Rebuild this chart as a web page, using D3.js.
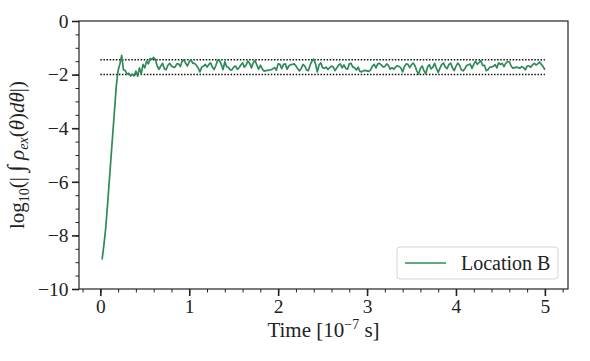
<!DOCTYPE html>
<html>
<head>
<meta charset="utf-8">
<script src="https://cdn.jsdelivr.net/npm/d3@7"></script>
<style>
  body { margin: 0; background: #fff; }
  svg text { font-family: "Liberation Serif", "DejaVu Serif", serif; fill: #222; }
</style>
</head>
<body>
<svg id="chart" width="590" height="361"></svg>
<script>
const times = [
  0.02, 0.04, 0.06, 0.08, 0.10, 0.12, 0.14, 0.16, 0.18, 0.20,
  0.22, 0.24, 0.26, 0.28, 0.30, 0.32, 0.34, 0.36, 0.38, 0.40,
  0.42, 0.44, 0.46, 0.48, 0.50, 0.52, 0.54, 0.56, 0.58, 0.60,
  0.62, 0.64, 0.66, 0.68, 0.70, 0.72, 0.74, 0.76, 0.78, 0.80,
  0.82, 0.84, 0.86, 0.88, 0.90, 0.92, 0.94, 0.96, 0.98, 1.00,
  1.02, 1.04, 1.06, 1.08, 1.10, 1.12, 1.14, 1.16, 1.18, 1.20,
  1.22, 1.24, 1.26, 1.28, 1.30, 1.32, 1.34, 1.36, 1.38, 1.40,
  1.42, 1.44, 1.46, 1.48, 1.50, 1.52, 1.54, 1.56, 1.58, 1.60,
  1.62, 1.64, 1.66, 1.68, 1.70, 1.72, 1.74, 1.76, 1.78, 1.80,
  1.82, 1.84, 1.86, 1.88, 1.90, 1.92, 1.94, 1.96, 1.98, 2.00,
  2.02, 2.04, 2.06, 2.08, 2.10, 2.12, 2.14, 2.16, 2.18, 2.20,
  2.22, 2.24, 2.26, 2.28, 2.30, 2.32, 2.34, 2.36, 2.38, 2.40,
  2.42, 2.44, 2.46, 2.48, 2.50, 2.52, 2.54, 2.56, 2.58, 2.60,
  2.62, 2.64, 2.66, 2.68, 2.70, 2.72, 2.74, 2.76, 2.78, 2.80,
  2.82, 2.84, 2.86, 2.88, 2.90, 2.92, 2.94, 2.96, 2.98, 3.00,
  3.02, 3.04, 3.06, 3.08, 3.10, 3.12, 3.14, 3.16, 3.18, 3.20,
  3.22, 3.24, 3.26, 3.28, 3.30, 3.32, 3.34, 3.36, 3.38, 3.40,
  3.42, 3.44, 3.46, 3.48, 3.50, 3.52, 3.54, 3.56, 3.58, 3.60,
  3.62, 3.64, 3.66, 3.68, 3.70, 3.72, 3.74, 3.76, 3.78, 3.80,
  3.82, 3.84, 3.86, 3.88, 3.90, 3.92, 3.94, 3.96, 3.98, 4.00,
  4.02, 4.04, 4.06, 4.08, 4.10, 4.12, 4.14, 4.16, 4.18, 4.20,
  4.22, 4.24, 4.26, 4.28, 4.30, 4.32, 4.34, 4.36, 4.38, 4.40,
  4.42, 4.44, 4.46, 4.48, 4.50, 4.52, 4.54, 4.56, 4.58, 4.60,
  4.62, 4.64, 4.66, 4.68, 4.70, 4.72, 4.74, 4.76, 4.78, 4.80,
  4.82, 4.84, 4.86, 4.88, 4.90, 4.92, 4.94, 4.96, 4.98, 5.00
];
const locationB = [
  -8.90, -8.35, -7.75, -6.90, -6.00, -5.10, -4.20, -3.30, -2.40, -1.85,
  -1.60, -1.28, -1.82, -1.85, -1.98, -1.95, -2.05, -1.98, -2.05, -1.87,
  -2.06, -1.75, -1.97, -1.62, -1.75, -1.50, -1.60, -1.40, -1.43, -1.36,
  -1.45, -1.68, -1.80, -1.68, -1.58, -1.78, -1.82, -1.65, -1.58, -1.68,
  -1.72, -1.72, -1.60, -1.60, -1.70, -1.50, -1.45, -1.58, -1.68, -1.52,
  -1.44, -1.58, -1.58, -1.65, -1.75, -1.90, -1.72, -1.69, -1.62, -1.72,
  -1.62, -1.56, -1.72, -1.81, -1.65, -1.46, -1.47, -1.62, -1.81, -1.52,
  -1.70, -1.73, -1.82, -1.82, -1.72, -1.68, -1.80, -1.75, -1.64, -1.56,
  -1.72, -1.64, -1.50, -1.58, -1.75, -1.56, -1.48, -1.64, -1.80, -1.65,
  -1.78, -1.87, -1.85, -1.84, -1.83, -1.82, -1.78, -1.74, -1.84, -1.60,
  -1.62, -1.78, -1.62, -1.60, -1.80, -1.68, -1.63, -1.62, -1.60, -1.68,
  -1.78, -1.86, -1.77, -1.62, -1.68, -1.83, -1.85, -1.64, -1.50, -1.42,
  -1.60, -1.90, -1.64, -1.56, -1.74, -1.77, -1.72, -1.81, -1.74, -1.68,
  -1.72, -1.85, -1.75, -1.64, -1.60, -1.75, -1.64, -1.77, -1.80, -1.60,
  -1.58, -1.72, -1.74, -1.83, -1.72, -1.88, -1.90, -1.85, -1.84, -1.86,
  -1.88, -1.82, -1.68, -1.62, -1.75, -1.60, -1.58, -1.64, -1.71, -1.70,
  -1.60, -1.66, -1.80, -1.74, -1.80, -1.72, -1.67, -1.70, -1.75, -1.90,
  -1.70, -1.60, -1.62, -1.74, -1.63, -1.57, -1.68, -1.87, -1.98, -1.76,
  -1.68, -1.85, -1.97, -1.72, -1.63, -1.79, -1.72, -1.58, -1.77, -1.92,
  -1.76, -1.62, -1.57, -1.72, -1.78, -1.63, -1.57, -1.74, -1.85, -1.69,
  -1.57, -1.65, -1.82, -1.86, -1.78, -1.66, -1.63, -1.61, -1.77, -1.62,
  -1.50, -1.62, -1.55, -1.48, -1.66, -1.65, -1.85, -1.82, -1.72, -1.72,
  -1.69, -1.63, -1.75, -1.56, -1.62, -1.58, -1.70, -1.58, -1.52, -1.52,
  -1.68, -1.76, -1.74, -1.72, -1.74, -1.76, -1.70, -1.74, -1.82, -1.68,
  -1.67, -1.73, -1.64, -1.58, -1.64, -1.60, -1.53, -1.62, -1.70, -1.82
];
const seriesName = "Location B";

// reference band (dotted lines)
const bandLevels = [-1.45, -2.0];
const bandRange = [0, 5];

const xTicks = [0, 1, 2, 3, 4, 5];
const yTicks = [0, -2, -4, -6, -8, -10];

const svg = d3.select("#chart");
const svgWidth = 590;
const svgHeight = 361;
const margin = { top: 21, right: 22, bottom: 72, left: 79 };
const width = svgWidth - margin.left - margin.right;
const height = svgHeight - margin.top - margin.bottom;

const g = svg
  .append("g")
  .attr("transform", `translate(${margin.left},${margin.top})`);

const x = d3.scaleLinear().domain([-0.24, 5.26]).range([0, width]);
const y = d3.scaleLinear().domain([-10, 0]).range([height, 0]);

// minor ticks first, majors on top
const styleAxis = (sel, w) => {
  sel.select(".domain").remove();
  sel.selectAll("line").attr("stroke", "#222").attr("stroke-width", w);
  sel.selectAll("text")
    .attr("font-size", 19.5)
    .attr("font-family", '"Liberation Serif", "DejaVu Serif", serif');
};

g.append("g")
  .attr("transform", `translate(0,${height})`)
  .call(d3.axisBottom(x).tickValues(d3.range(-0.2, 5.21, 0.2)).tickSize(3.5).tickFormat(""))
  .call(styleAxis, 1);

g.append("g")
  .call(d3.axisLeft(y).tickValues(d3.range(-10, 0.01, 0.5)).tickSize(3.5).tickFormat(""))
  .call(styleAxis, 1);

g.append("g")
  .attr("transform", `translate(0,${height})`)
  .call(d3.axisBottom(x).tickValues(xTicks).tickSize(7).tickPadding(3).tickFormat(d3.format("d")))
  .call(styleAxis, 1.6);

g.append("g")
  .call(d3.axisLeft(y).tickValues(yTicks).tickSize(7).tickPadding(3.5).tickFormat(d3.format("d")))
  .call(styleAxis, 1.6);

// dotted band lines
g.selectAll(".band")
  .data(bandLevels)
  .enter()
  .append("line")
  .attr("class", "band")
  .attr("x1", x(bandRange[0]))
  .attr("x2", x(bandRange[1]))
  .attr("y1", (d) => y(d))
  .attr("y2", (d) => y(d))
  .attr("stroke", "#111")
  .attr("stroke-width", 1.5)
  .attr("stroke-dasharray", "1.5,1.6");

// the series
const line = d3.line()
  .x((d, i) => x(times[i]))
  .y((d) => y(d));

g.append("path")
  .datum(locationB)
  .attr("fill", "none")
  .attr("stroke", "seagreen")
  .attr("stroke-width", 1.7)
  .attr("stroke-linejoin", "round")
  .attr("d", line);

// frame
g.append("rect")
  .attr("width", width)
  .attr("height", height)
  .attr("fill", "none")
  .attr("stroke", "#222")
  .attr("stroke-width", 1.2);

// x label
const xl = svg.append("text")
  .attr("x", margin.left + width / 2)
  .attr("y", 337)
  .attr("text-anchor", "middle")
  .attr("font-size", 21);
xl.append("tspan").text("Time [10");
xl.append("tspan").attr("font-size", 14).attr("dy", -8).text("−7");
xl.append("tspan").attr("dy", 8).text(" s]");

// y label
const yl = svg.append("text")
  .attr("transform", `translate(24,${margin.top + height / 2}) rotate(-90)`)
  .attr("text-anchor", "middle")
  .attr("font-size", 21);
yl.append("tspan").text("log");
yl.append("tspan").attr("font-size", 14).attr("dy", 5).text("10");
yl.append("tspan").attr("dy", -5).text("(| ");
yl.append("tspan").attr("font-size", 24).text("∫");
yl.append("tspan").text(" ");
yl.append("tspan").attr("font-style", "italic").text("ρ");
yl.append("tspan").attr("font-style", "italic").attr("font-size", 14).attr("dy", 4).text("ex");
yl.append("tspan").attr("dy", -4).text("(");
yl.append("tspan").attr("font-style", "italic").text("θ");
yl.append("tspan").text(")");
yl.append("tspan").attr("font-style", "italic").text("dθ");
yl.append("tspan").text("|)");

// legend
const lg = svg.append("g").attr("transform", "translate(397,247)");
lg.append("rect")
  .attr("width", 161)
  .attr("height", 32)
  .attr("rx", 3)
  .attr("fill", "#fff")
  .attr("fill-opacity", 0.8)
  .attr("stroke", "#d5d5d5");
lg.append("line")
  .attr("x1", 8).attr("x2", 49)
  .attr("y1", 16).attr("y2", 16)
  .attr("stroke", "seagreen")
  .attr("stroke-width", 1.7);
lg.append("text")
  .attr("x", 64)
  .attr("y", 23)
  .attr("font-size", 20)
  .text(seriesName);
</script>
</body>
</html>
